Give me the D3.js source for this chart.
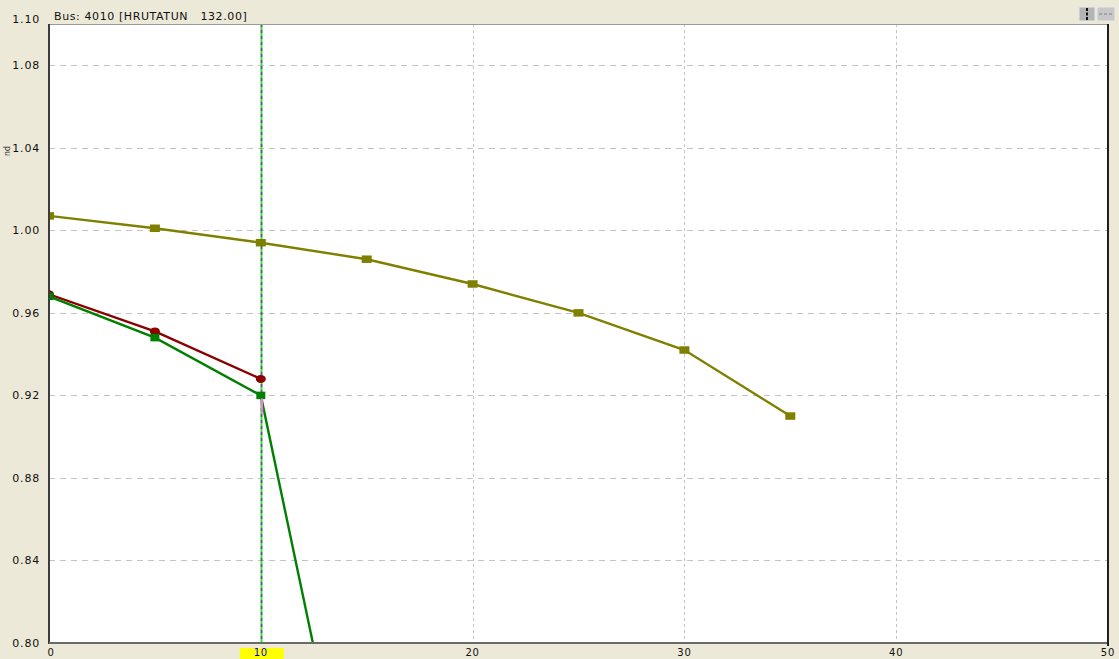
<!DOCTYPE html>
<html>
<head>
<meta charset="utf-8">
<script src="https://cdn.jsdelivr.net/npm/d3@7"></script>
<style>
  html, body { margin: 0; padding: 0; background: #ECE9D8; }
  svg { display: block; }
  text { font-family: "DejaVu Sans", Verdana, sans-serif; }
</style>
</head>
<body>
<svg id="chart" width="1119" height="659"></svg>
<script>
// PV curve data: bus voltage (pu) against transfer (MW steps)
const xTicks = [0, 10, 20, 30, 40, 50];
const yTicks = [0.80, 0.84, 0.88, 0.92, 0.96, 1.00, 1.04, 1.08, 1.10];

const olivePowers = [0, 5, 10, 15, 20, 25, 30, 35];
const oliveVolts  = [1.007, 1.001, 0.994, 0.986, 0.974, 0.960, 0.942, 0.910];

const redPowers = [0, 5, 10];
const redVolts  = [0.969, 0.951, 0.928];

const greenPowers = [0, 5, 10, 15];
const greenVolts  = [0.968, 0.948, 0.920, 0.676];
const greenMarked = [true, true, true, false];

const cursorX = 10;
const title = "Bus: 4010 [HRUTATUN   132.00]";

(function () {
const pL = 49, pR = 1108, pT = 24, pB = 643;

const svg = d3.select("#chart");
const x = d3.scaleLinear().domain([0, 50]).range([pL, pR]);
const y = d3.scaleLinear().domain([0.80, 1.10]).range([pB, pT]);

// plot background
svg.append("rect").attr("x", pL).attr("y", pT)
  .attr("width", pR - pL).attr("height", pB - pT).attr("fill", "#FFFFFF");

svg.append("defs").append("clipPath").attr("id", "plotClip")
  .append("rect").attr("x", pL).attr("y", pT)
  .attr("width", pR - pL).attr("height", pB - pT);

// grid
const grid = svg.append("g");
grid.selectAll("line.h").data(yTicks.filter(v => v > 0.80 && v < 1.10)).join("line")
  .attr("x1", pL).attr("x2", pR)
  .attr("y1", d => Math.round(y(d)) + 0.5).attr("y2", d => Math.round(y(d)) + 0.5)
  .attr("stroke", "#C4C4C4").attr("stroke-width", 1).attr("stroke-dasharray", "6,5");
grid.selectAll("line.v").data(xTicks.filter(v => v > 0 && v < 50 && v !== cursorX)).join("line")
  .attr("y1", pT).attr("y2", pB)
  .attr("x1", d => Math.round(x(d)) + 0.5).attr("x2", d => Math.round(x(d)) + 0.5)
  .attr("stroke", "#C4C4C4").attr("stroke-width", 1).attr("stroke-dasharray", "3,3");

// cursor line at the selected step
const cx = Math.round(x(cursorX)) + 0.5;
svg.append("line").attr("x1", cx).attr("x2", cx).attr("y1", pT).attr("y2", pB)
  .attr("stroke", "#5A5A80").attr("stroke-width", 2).attr("stroke-dasharray", "3,3");
svg.append("line").attr("x1", cx).attr("x2", cx).attr("y1", pT + 3).attr("y2", pB)
  .attr("stroke", "#22EE22").attr("stroke-width", 2).attr("stroke-dasharray", "3,3");

const plot = svg.append("g").attr("clip-path", "url(#plotClip)");
const line = d3.line().x(d => x(d[0])).y(d => y(d[1]));

function drawSeries(ps, vs, color, shape, marked) {
  const pts = ps.map((p, i) => [p, vs[i]]);
  plot.append("path").datum(pts).attr("d", line)
    .attr("fill", "none").attr("stroke", color).attr("stroke-width", 2.4);
  const m = pts.filter((d, i) => !marked || marked[i]);
  if (shape === "circle") {
    plot.selectAll(null).data(m).join("ellipse")
      .attr("cx", d => x(d[0])).attr("cy", d => y(d[1]))
      .attr("rx", 5).attr("ry", 4).attr("fill", color);
  } else {
    const w = shape === "wide" ? 10 : 9, h = 7.5;
    plot.selectAll(null).data(m).join("rect")
      .attr("x", d => x(d[0]) - w / 2).attr("y", d => y(d[1]) - h / 2)
      .attr("width", w).attr("height", h).attr("fill", color);
  }
}

drawSeries(olivePowers, oliveVolts, "#808000", "wide");
drawSeries(redPowers, redVolts, "#8B0000", "circle");
drawSeries(greenPowers, greenVolts, "#008000", "square", greenMarked);

// short highlight below the cursor marker
plot.append("line")
  .attr("x1", x(cursorX) + 1).attr("x2", x(cursorX) + 1.5)
  .attr("y1", y(greenVolts[2]) + 3).attr("y2", y(greenVolts[2]) + 18)
  .attr("stroke", "#F080E0").attr("stroke-width", 2);

// frame
svg.append("line").attr("x1", pL).attr("x2", pR).attr("y1", pT + 0.5).attr("y2", pT + 0.5)
  .attr("stroke", "#9A9A9A").attr("stroke-width", 1);
svg.append("line").attr("x1", pL).attr("x2", pL).attr("y1", pT).attr("y2", pB + 1)
  .attr("stroke", "#3C3C3C").attr("stroke-width", 2);
svg.append("line").attr("x1", pL).attr("x2", pR + 1).attr("y1", pB).attr("y2", pB)
  .attr("stroke", "#6A6A6A").attr("stroke-width", 2);
svg.append("line").attr("x1", pR).attr("x2", pR).attr("y1", pT).attr("y2", pB + 3)
  .attr("stroke", "#1E1E1E").attr("stroke-width", 2);

// y tick labels
svg.append("g").selectAll("text").data(yTicks).join("text")
  .attr("x", 40).attr("y", d => (d === 1.10 ? y(d) - 5 : y(d)) + 4)
  .attr("text-anchor", "end").attr("font-size", 11).attr("fill", "#111")
  .attr("letter-spacing", 0.8)
  .text(d => d.toFixed(2));

// x tick labels, with the cursor step highlighted
const cw = 44;
svg.append("rect").attr("x", x(cursorX) - cw / 2 + 1).attr("y", 648)
  .attr("width", cw).attr("height", 11).attr("fill", "#FFFF00");
svg.append("g").selectAll("text").data(xTicks).join("text")
  .attr("x", d => x(d) + (d === 0 ? 2 : 0)).attr("y", 655.5)
  .attr("text-anchor", "middle").attr("font-size", 10)
  .attr("letter-spacing", 0.8)
  .attr("fill", d => d === cursorX ? "#0000DD" : "#111")
  .text(d => d);

// axis unit, rotated
svg.append("text").attr("transform", "translate(5,146) rotate(90)")
  .attr("font-size", 8).attr("fill", "#333").text("pu");

// title
svg.append("text").attr("x", 54).attr("y", 20).attr("font-size", 11)
  .attr("fill", "#111").attr("letter-spacing", 0.6)
  .style("white-space", "pre")
  .text(title);

// toolbar buttons
const b1 = svg.append("g");
b1.append("rect").attr("x", 1079).attr("y", 7).attr("width", 16).attr("height", 14)
  .attr("fill", "#B4B4B4").attr("stroke", "#E8E8E8");
b1.append("line").attr("x1", 1087).attr("x2", 1087).attr("y1", 8).attr("y2", 20)
  .attr("stroke", "#111").attr("stroke-width", 2).attr("stroke-dasharray", "3,1.5");
const b2 = svg.append("g");
b2.append("rect").attr("x", 1097).attr("y", 7).attr("width", 18).attr("height", 14)
  .attr("fill", "#C8C8C8").attr("stroke", "#E8E8E8");
b2.append("line").attr("x1", 1099).attr("x2", 1113).attr("y1", 14).attr("y2", 14)
  .attr("stroke", "#808080").attr("stroke-width", 1).attr("stroke-dasharray", "3,2");
})();
</script>
</body>
</html>
